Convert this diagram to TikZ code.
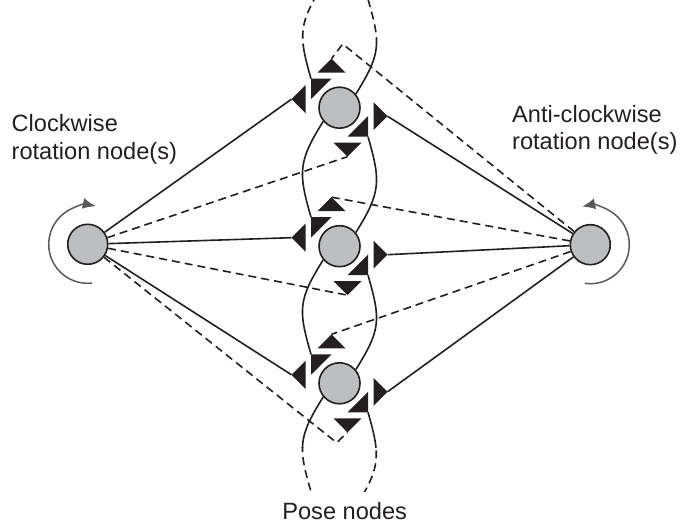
\documentclass[tikz,border=0pt]{standalone}
\usepackage{fontspec}
\setmainfont{Liberation Sans}
\usetikzlibrary{arrows.meta}
\definecolor{ink}{HTML}{231F20}
\definecolor{nodegray}{HTML}{BCBEC0}
\definecolor{rotgray}{HTML}{595959}
\begin{document}
\begin{tikzpicture}[x=1pt,y=1pt,
  pose/.style={circle,draw=ink,line width=1.6pt,fill=nodegray,minimum size=41pt,inner sep=0pt},
  rotnode/.style={circle,draw=ink,line width=1.6pt,fill=nodegray,minimum size=40pt,inner sep=0pt},
  tri/.style={fill=ink},
  solidline/.style={draw=ink,line width=1.6pt},
  dashline/.style={draw=ink,line width=1.6pt,dash pattern=on 8pt off 5pt},
  rotarrow/.style={draw=rotgray,line width=1.5pt,-{Latex[length=13pt,width=11pt]}},
  lab/.style={inner sep=0pt,text=ink,font=\fontsize{23.6}{28.5}\selectfont}
]
\useasboundingbox (0,0) rectangle (680,529);

% nodes
\node[pose] (P1) at (339.5,421.3) {};
\node[pose] (P2) at (339.5,282.8) {};
\node[pose] (P3) at (339.5,145.7) {};
\node[rotnode] (L) at (87.7,284.7) {};
\node[rotnode] (R) at (590.3,284.3) {};

% phantom poses beyond the frame
\coordinate (P0) at (339.5,558.8);
\coordinate (P4) at (339.5,8.2);
\path (P0) ++(-15.7,-13.2) coordinate (P0-ll);
\path (P0) ++(28.5,-29) coordinate (P0-a5);
\path (P4) ++(-28.5,29) coordinate (P4-a2);
\path (P4) ++(15.7,13.2) coordinate (P4-ur);

% corners of bent dashed connectors
\coordinate (cA) at (342.7,485);
\coordinate (cB) at (336.7,86.3);

% port triangles
\foreach \n in {P1,P2,P3}{
  \path (\n) ++(-8,49) coordinate (\n-a1);
  \path (\n) ++(-28.5,29) coordinate (\n-a2);
  \path (\n) ++(-48,8.5) coordinate (\n-a3);
  \path (\n) ++(48,-8.5) coordinate (\n-a4);
  \path (\n) ++(28.5,-29) coordinate (\n-a5);
  \path (\n) ++(8,-49) coordinate (\n-a6);
  \fill[tri,shift={(\n)}] (-8,49) -- (-22,35) -- (6,35) -- cycle;
  \fill[tri,shift={(\n)}] (-28.5,29) -- (-8,29) -- (-28.5,8.5) -- cycle;
  \fill[tri,shift={(\n)}] (-48,8.5) -- (-34,22.5) -- (-34,-5.5) -- cycle;
  \fill[tri,shift={(\n)}] (48,-8.5) -- (34,-22.5) -- (34,5.5) -- cycle;
  \fill[tri,shift={(\n)}] (28.5,-29) -- (8,-29) -- (28.5,-8.5) -- cycle;
  \fill[tri,shift={(\n)}] (8,-49) -- (-6,-35) -- (22,-35) -- cycle;
}

% solid connectors to rotation nodes
\foreach \n in {P1,P2,P3}{
  \draw[solidline] (L) -- (\n-a3);
  \draw[solidline] (R) -- (\n-a4);
}

% dashed connectors
\draw[dashline] (L) -- (P1-a6);
\draw[dashline] (L) -- (P2-a6);
\draw[dashline] (L) -- (cB) -- (P3-a6);
\draw[dashline] (R) -- (cA) -- (P1-a1);
\draw[dashline] (R) -- (P2-a1);
\draw[dashline] (R) -- (P3-a1);

% lens arcs between pose nodes
\draw[solidline] (P1.-140) .. controls +(-25,-40) and +(-13,45) .. (P2-a2);
\draw[solidline] (P1-a5) .. controls +(13,-45) and +(25,40) .. (P2.40);
\draw[solidline] (P2.-140) .. controls +(-25,-40) and +(-13,45) .. (P3-a2);
\draw[solidline] (P2-a5) .. controls +(13,-45) and +(25,40) .. (P3.40);

% top tails
\begin{scope}
  \clip (0,483) rectangle (680,529);
  \draw[dashline] (P0-ll) .. controls +(-25,-40) and +(-13,45) .. (P1-a2);
  \draw[dashline] (P0-a5) .. controls +(13,-45) and +(25,40) .. (P1.40);
\end{scope}
\begin{scope}
  \clip (0,300) rectangle (680,483);
  \draw[solidline] (P0-ll) .. controls +(-25,-40) and +(-13,45) .. (P1-a2);
  \draw[solidline] (P0-a5) .. controls +(13,-45) and +(25,40) .. (P1.40);
\end{scope}
% bottom tails
\begin{scope}
  \clip (0,81) rectangle (680,300);
  \draw[solidline] (P3.-140) .. controls +(-25,-40) and +(-13,45) .. (P4-a2);
  \draw[solidline] (P3-a5) .. controls +(13,-45) and +(25,40) .. (P4-ur);
\end{scope}
\begin{scope}
  \clip (0,37.3) rectangle (680,81);
  \draw[dashline] (P3.-140) .. controls +(-25,-40) and +(-13,45) .. (P4-a2);
  \draw[dashline] (P3-a5) .. controls +(13,-45) and +(25,40) .. (P4-ur);
\end{scope}

% rotation arrows
\draw[rotarrow] (L) ++(-84:39) arc[start angle=-84,end angle=-282,radius=39];
\draw[rotarrow] (R) ++(-98:39) arc[start angle=-98,end angle=102,radius=39];

% labels
\node[lab,anchor=base west] (cw1) at (11.5,397.3) {Clockwise};
\node[lab,anchor=base west] (cw2) at (11.5,369) {rotation node(s)};
\node[lab,anchor=base west] (acw1) at (512,406.7) {Anti-clockwise};
\node[lab,anchor=base west] (acw2) at (512,379) {rotation node(s)};
\node[lab,anchor=base] (pose) at (344.7,9.7) {Pose nodes};
\end{tikzpicture}
\end{document}
